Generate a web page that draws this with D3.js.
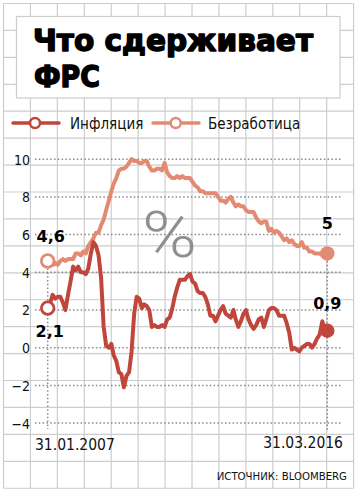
<!DOCTYPE html>
<html><head><meta charset="utf-8">
<script src="https://cdn.jsdelivr.net/npm/d3@7"></script>
<style>
html,body{margin:0;padding:0;background:#fff;}
svg{display:block;}
</style></head>
<body>
<svg id="chart" width="356" height="490"></svg>
<script>
// ---- data ----
const title = ["Что сдерживает", "ФРС"];
const seriesNames = ["Инфляция", "Безработица"];
const startDate = "2007-01";
const endDate = "2016-03";
const dateLabels = ["31.01.2007", "31.03.2016"];
const yTicks = [-4, -2, 0, 2, 4, 6, 8, 10];
const source = "ИСТОЧНИК: BLOOMBERG";
const inflation = [
 2.1,2.4,2.8,2.6,2.7,2.7,2.4,2.0,2.8,3.5,4.3,4.1,
 4.3,4.0,4.0,3.9,4.2,5.0,5.6,5.4,4.9,3.7,1.1,0.1,
 0.0,0.2,-0.4,-0.7,-1.3,-1.4,-2.1,-1.5,-1.3,-0.2,1.8,2.7,
 2.6,2.1,2.3,2.2,2.0,1.1,1.2,1.1,1.1,1.2,1.1,1.5,
 1.6,2.1,2.7,3.2,3.6,3.6,3.6,3.8,3.9,3.5,3.4,3.0,
 2.9,2.9,2.7,2.3,1.7,1.7,1.4,1.7,2.0,2.2,1.8,1.7,
 1.6,2.0,1.5,1.1,1.4,1.8,2.0,1.5,1.2,1.0,1.2,1.5,
 1.6,1.1,1.5,2.0,2.1,2.1,2.0,1.7,1.7,1.7,1.3,0.8,
 -0.1,0.0,-0.1,-0.2,0.0,0.1,0.2,0.2,0.0,0.2,0.5,0.7,
 1.4,1.0,0.9];
const unemployment = [
 4.6,4.5,4.4,4.5,4.4,4.6,4.7,4.6,4.7,4.7,4.7,5.0,
 5.0,4.9,5.1,5.0,5.4,5.6,5.8,6.1,6.1,6.5,6.8,7.3,
 7.8,8.3,8.7,9.0,9.4,9.5,9.5,9.6,9.8,10.0,9.9,9.9,
 9.8,9.8,9.9,9.9,9.6,9.4,9.4,9.5,9.5,9.4,9.8,9.3,
 9.1,9.0,9.0,9.1,9.0,9.1,9.0,9.0,9.0,8.8,8.6,8.5,
 8.3,8.3,8.2,8.2,8.2,8.2,8.2,8.0,7.8,7.8,7.7,7.9,
 8.0,7.7,7.5,7.6,7.5,7.5,7.3,7.2,7.2,7.2,6.9,6.7,
 6.6,6.7,6.7,6.2,6.3,6.1,6.2,6.1,5.9,5.7,5.8,5.6,
 5.7,5.5,5.4,5.4,5.6,5.3,5.3,5.1,5.1,5.0,5.0,5.0,
 4.9,4.9,5.0];
const colors = ["#c0463b", "#e38a72"];

// ---- chart ----
const svg = d3.select("#chart");
const parse = d3.timeParse("%Y-%m");
const d0 = parse(startDate);
const dates = inflation.map((_, i) => d3.timeMonth.offset(d0, i));
const x = d3.scaleTime().domain([d0, parse(endDate)]).range([47.7, 327.3]);
const y = d3.scaleLinear().domain([0, 10]).range([347.7, 159.2]);
const cond = "'Liberation Sans Narrow','DejaVu Sans Condensed',sans-serif";

// background grid
const g0 = 3.5, step = 26.93;
const grid = svg.append("g").attr("stroke", "#cdcdcd").attr("stroke-width", 1.2);
grid.selectAll("line.v").data(d3.range(14)).join("line")
  .attr("x1", d => g0 + d * step).attr("x2", d => g0 + d * step)
  .attr("y1", g0).attr("y2", g0 + 18 * step);
grid.selectAll("line.h").data(d3.range(19)).join("line")
  .attr("y1", d => g0 + d * step).attr("y2", d => g0 + d * step)
  .attr("x1", g0).attr("x2", g0 + 13 * step);

// title box
svg.append("rect").attr("x", 16.5).attr("y", 16.5).attr("width", 323.5).attr("height", 81.5)
  .attr("fill", "#fff").attr("stroke", "#cdcdcd").attr("stroke-width", 1.2);
const tt = svg.append("g").attr("font-family", "'DejaVu Sans','Liberation Sans',sans-serif")
  .attr("font-weight", "bold").attr("font-size", 30).attr("fill", "#000")
  .attr("stroke", "#000").attr("stroke-width", 1.5).attr("stroke-linejoin", "round");
tt.append("text").attr("x", 33).attr("y", 51).text(title[0])
  .attr("textLength", 280).attr("lengthAdjust", "spacingAndGlyphs");
tt.append("text").attr("x", 34).attr("y", 87).text(title[1])
  .attr("textLength", 66).attr("lengthAdjust", "spacingAndGlyphs");

// legend
const leg = [{x: 13, cx: 35, tx: 70, c: colors[0], t: seriesNames[0]},
             {x: 153, cx: 175.7, tx: 208, c: colors[1], t: seriesNames[1]}];
const lg = svg.append("g");
leg.forEach(l => {
  lg.append("line").attr("x1", l.x).attr("x2", l.x + 46).attr("y1", 123).attr("y2", 123)
    .attr("stroke", l.c).attr("stroke-width", 3.5).attr("stroke-linecap", "round");
  lg.append("circle").attr("cx", l.cx).attr("cy", 123).attr("r", 5).attr("fill", "#fff")
    .attr("stroke", l.c).attr("stroke-width", 2.5);
  lg.append("text").attr("x", l.tx).attr("y", 128.5).text(l.t)
    .attr("font-family", cond).attr("font-size", 15).attr("fill", "#111");
});

// big % sign
svg.append("text").attr("x", 169.5).attr("y", 257).attr("text-anchor", "middle")
  .attr("font-family", "Roboto, 'Open Sans', sans-serif").attr("font-weight", 300)
  .attr("font-size", 64).attr("fill", "#8f8f8f")
  .attr("textLength", 55).attr("lengthAdjust", "spacingAndGlyphs").text("%");

// y axis dotted gridlines + labels
const yAxis = d3.axisLeft(y).tickValues(yTicks).tickSize(0).tickPadding(0).tickFormat(d3.format("d"));
const ya = svg.append("g").attr("transform", "translate(30,0)").call(yAxis);
ya.select(".domain").remove();
ya.selectAll("text").attr("font-family", cond)
  .attr("font-size", 14).attr("fill", "#111").attr("dy", "0.35em").attr("x", 0);
svg.append("g").selectAll("line").data(yTicks).join("line")
  .attr("x1", 35).attr("x2", 342).attr("y1", d => y(d)).attr("y2", d => y(d))
  .attr("stroke", "#8a8a8a").attr("stroke-width", 1.5).attr("stroke-dasharray", "1.5,2.3");

// vertical dotted markers
const n = inflation.length - 1;
svg.append("line").attr("x1", x(dates[0])).attr("x2", x(dates[0]))
  .attr("y1", y(unemployment[0])).attr("y2", 429)
  .attr("stroke", "#8a8a8a").attr("stroke-width", 1.5).attr("stroke-dasharray", "1.5,2.3");
svg.append("line").attr("x1", x(dates[n])).attr("x2", x(dates[n]))
  .attr("y1", y(unemployment[n])).attr("y2", 430)
  .attr("stroke", "#8a8a8a").attr("stroke-width", 1.5).attr("stroke-dasharray", "1.5,2.3");

// lines
const line = d3.line().x((d, i) => x(dates[i])).y(d => y(d));
[[unemployment, colors[1]], [inflation, colors[0]]].forEach(([s, c]) => {
  svg.append("path").attr("d", line(s)).attr("fill", "none").attr("stroke", c)
    .attr("stroke-width", 4).attr("stroke-linejoin", "round").attr("stroke-linecap", "round");
  svg.append("circle").attr("cx", x(dates[0])).attr("cy", y(s[0])).attr("r", 6.3)
    .attr("fill", "#fff").attr("stroke", c).attr("stroke-width", 2.8);
  svg.append("circle").attr("cx", x(dates[n])).attr("cy", y(s[n])).attr("r", 7.2).attr("fill", c);
});

// value labels
const fmt = v => String(v).replace(".", ",");
const lab = svg.append("g").attr("font-family", "'DejaVu Sans',sans-serif").attr("font-weight", "bold")
  .attr("font-size", 16).attr("fill", "#000").attr("text-anchor", "middle");
lab.append("text").attr("x", x(dates[0]) + 3).attr("y", 242).text(fmt(unemployment[0]));
lab.append("text").attr("x", x(dates[0]) + 2).attr("y", 337).text(fmt(inflation[0]));
lab.append("text").attr("x", x(dates[n])).attr("y", 229).text(fmt(unemployment[n]));
lab.append("text").attr("x", x(dates[n])).attr("y", 309).text(fmt(inflation[n]));

// date labels
const dl = svg.append("g").attr("font-family", cond).attr("font-size", 15.5).attr("fill", "#111");
dl.append("text").attr("x", 35).attr("y", 450).text(dateLabels[0]);
dl.append("text").attr("x", 343).attr("y", 448).attr("text-anchor", "end").text(dateLabels[1]);
// source
svg.append("text").attr("x", 347).attr("y", 480).attr("text-anchor", "end")
  .attr("font-family", cond).attr("font-size", 11.3).attr("fill", "#111").text(source);
</script>
</body></html>
